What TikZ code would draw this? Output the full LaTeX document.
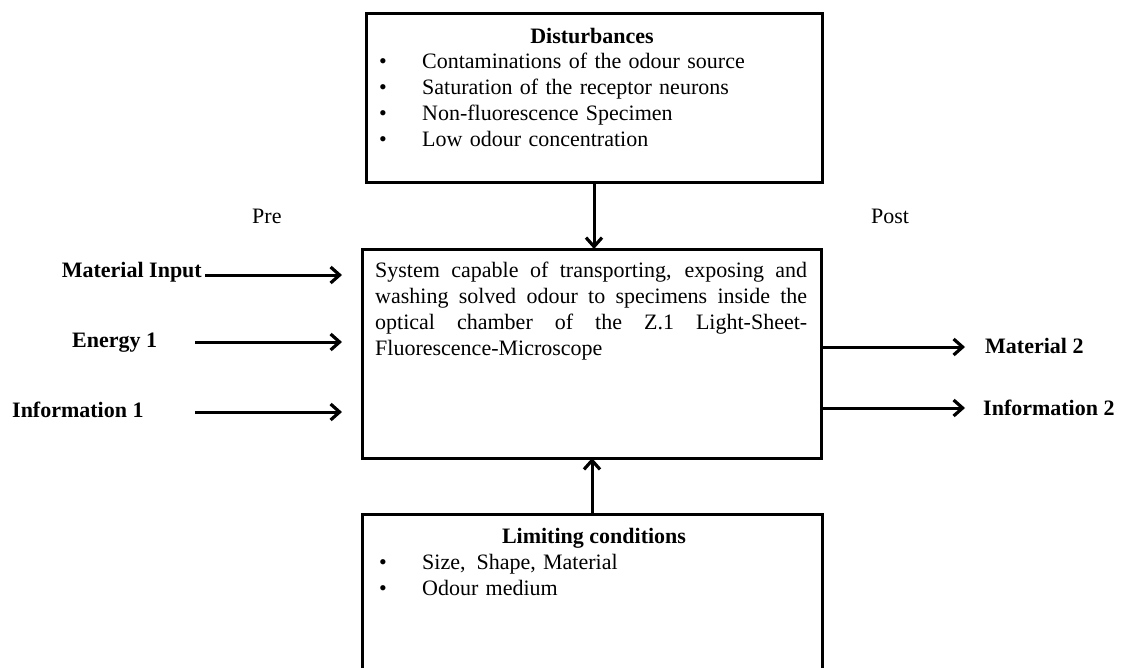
\documentclass[tikz,border=0pt]{standalone}
\usepackage{fontspec}
\setmainfont{Liberation Serif}
\usetikzlibrary{arrows,arrows.meta,positioning}
\newcommand{\diafont}{\fontsize{22}{26}\selectfont}
\newcommand{\itm}{\makebox[43pt][l]{\textbullet}}
\tikzset{
 >={Straight Barb[length=9pt,width=16pt,line width=3.2pt]},
 box/.style={draw,line width=3pt,inner sep=0pt,outer sep=0pt},
 flow/.style={->,line width=3pt},
 lbl/.style={inner sep=0pt,font=\diafont\bfseries},
 txt/.style={inner sep=0pt,text width=420pt,align=left}
}

\begin{document}
\begin{tikzpicture}[x=1pt,y=-1pt,font=\diafont]
\useasboundingbox (0,0) rectangle (1122,667);

% the three boxes
\path (366,13) node[box,anchor=north west,minimum width=456pt,minimum height=169pt,name=dist] {};
\path (362,249) node[box,anchor=north west,minimum width=459pt,minimum height=209pt,name=main] {};
\path (362,514) node[box,anchor=north west,minimum width=460pt,minimum height=170pt,name=lim] {};

% box texts
\path (592,43) node[lbl,anchor=base,name=disttitle] {Disturbances};
\path (379,68) node[txt,anchor=base west,name=distlist]
 {\itm Contaminations of the odour source\\
  \itm Saturation of the receptor neurons\\
  \itm Non-fluorescence Specimen\\
  \itm Low odour concentration};
\path (375,277) node[inner sep=0pt,anchor=base west,text width=432pt,align=justify,name=maintext]
 {System capable of transporting, exposing and\linebreak
  washing solved odour to specimens inside the\linebreak
  optical chamber of the Z.1 Light-Sheet-\linebreak
  Fluorescence-Microscope};
\path (594,543) node[lbl,anchor=base,name=limtitle] {Limiting conditions};
\path (379,569) node[txt,anchor=base west,name=limlist]
 {\itm Size,\, Shape, Material\\
  \itm Odour medium};

% side labels
\path (252,223) node[inner sep=0pt,anchor=base west,name=pre] {Pre};
\path (871,223) node[inner sep=0pt,anchor=base west,name=post] {Post};
\path (202,277) node[lbl,anchor=base east,name=matin] {Material Input};
\path (72,347) node[lbl,anchor=base west,name=en1] {Energy 1};
\path (12,417) node[lbl,anchor=base west,name=inf1] {Information 1};
\path (985,353) node[lbl,anchor=base west,name=mat2] {Material 2};
\path (983,415) node[lbl,anchor=base west,name=inf2] {Information 2};

\coordinate (matinA) at (205,275);
\coordinate (en1A) at (195,342);
\coordinate (inf1A) at (195,412);
\coordinate (mat2A) at (965,347);
\coordinate (inf2A) at (965,408);

% flows
\path[flow] (matinA) edge[shorten >=20pt] (matinA -| main.west);
\path[flow] (en1A) edge[shorten >=20pt] (en1A -| main.west);
\path[flow] (inf1A) edge[shorten >=20pt] (inf1A -| main.west);
\path[flow] (mat2A -| main.east) edge (mat2A);
\path[flow] (inf2A -| main.east) edge (inf2A);
\path[flow] (dist.south) edge (dist.south |- main.north);
\path[flow] (lim.north) edge (lim.north |- main.south);

\end{tikzpicture}
\end{document}
